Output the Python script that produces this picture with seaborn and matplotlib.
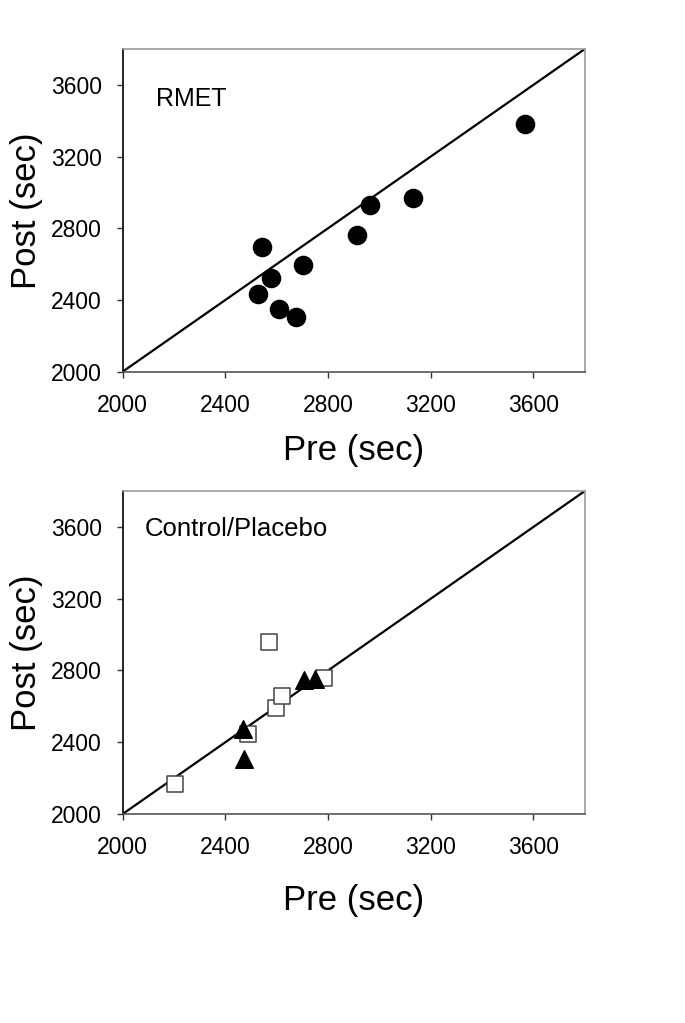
import matplotlib
matplotlib.use("Agg")
import matplotlib.pyplot as plt
import seaborn as sns
import pandas as pd

# RMET group
rmet_pre = [2542, 2578, 2529, 2610, 2674, 2704, 2913, 2962, 3131, 3568]
rmet_post = [2698, 2525, 2433, 2350, 2303, 2593, 2761, 2927, 2969, 3382]

# Control / placebo group (squares = control, triangles = placebo)
ctrl_pre = [2205, 2490, 2597, 2622, 2568, 2785]
ctrl_post = [2169, 2444, 2591, 2657, 2959, 2759]
plac_pre = [2470, 2474, 2707, 2750]
plac_post = [2472, 2306, 2746, 2750]

ticks = [2000, 2400, 2800, 3200, 3600]
lims = (2000, 3800)


def style_axes(ax, xpad=12):
    ax.set_xlim(*lims)
    ax.set_ylim(*lims)
    ax.set_xticks(ticks)
    ax.set_yticks(ticks)
    ax.plot(lims, lims, color='black', lw=1.6, zorder=1)
    ax.spines['left'].set_color('black')
    ax.spines['bottom'].set_color('#555555')
    ax.spines['top'].set_color('#999999')
    ax.spines['right'].set_color('#999999')
    for s in ax.spines.values():
        s.set_linewidth(1.2)
    ax.tick_params(axis='both', direction='out', length=4, width=1,
                   color='#333333', labelcolor='black', labelsize=16.5,
                   bottom=True, left=True)
    ax.tick_params(axis='x', pad=12)
    ax.tick_params(axis='y', pad=11)
    ax.set_xlabel('Pre (sec)', fontsize=25, labelpad=xpad, color='black')
    ax.set_ylabel('Post (sec)', fontsize=25, labelpad=6, color='black')
    return ax


sns.set_theme(style="white")
plt.rcParams['font.family'] = ['Liberation Sans', 'DejaVu Sans']
plt.rcParams['text.color'] = 'black'

fig = plt.figure(figsize=(6.85, 10.23), dpi=100)
ax1 = fig.add_axes([0.1791, 0.6367, 0.6746, 0.3154])
ax2 = fig.add_axes([0.1791, 0.2043, 0.6746, 0.3157])

# Panel 1: RMET
df_rmet = pd.DataFrame({'pre': rmet_pre, 'post': rmet_post})
sns.scatterplot(data=df_rmet, x='pre', y='post', ax=ax1, marker='o',
                s=170, color='black', edgecolor='black', zorder=3)
style_axes(ax1, xpad=12)
ax1.text(0.072, 0.823, 'RMET', transform=ax1.transAxes, fontsize=18,
         ha='left', va='baseline', color='black')

# Panel 2: Control / Placebo
df_ctrl = pd.DataFrame({'pre': ctrl_pre, 'post': ctrl_post})
df_plac = pd.DataFrame({'pre': plac_pre, 'post': plac_post})
sns.scatterplot(data=df_ctrl, x='pre', y='post', ax=ax2, marker='s',
                s=125, facecolor='white', edgecolor='#444444', linewidth=1.1,
                zorder=3)
sns.scatterplot(data=df_plac, x='pre', y='post', ax=ax2, marker='^',
                s=160, color='black', edgecolor='black', zorder=4)
style_axes(ax2, xpad=18)
ax2.text(0.048, 0.862, 'Control/Placebo', transform=ax2.transAxes,
         fontsize=18.5, ha='left', va='baseline', color='black')

fig.savefig('out.png', dpi=100, facecolor='white')
